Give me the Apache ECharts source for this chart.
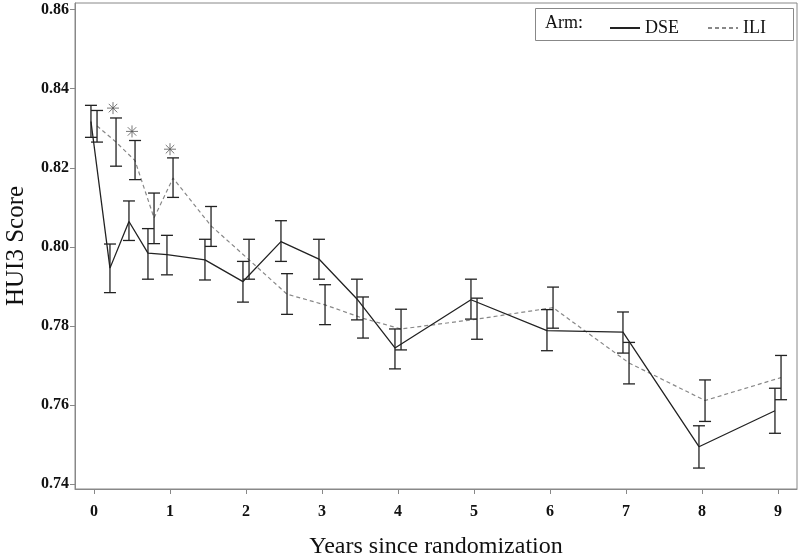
<!DOCTYPE html>
<html>
<head>
<meta charset="utf-8">
<script src="https://cdn.jsdelivr.net/npm/echarts@6/dist/echarts.min.js"></script>
<style>
html,body{margin:0;padding:0;background:#fff;}
#c{width:800px;height:558px;}
</style>
</head>
<body>
<div id="c"></div>
<script>
// Years since randomization
var years = [0, 0.25, 0.5, 0.75, 1, 1.5, 2, 2.5, 3, 3.5, 4, 5, 6, 7, 8, 9];
// DSE arm
var dseMean  = [0.8317, 0.7946, 0.8064, 0.7984, 0.7980, 0.7967, 0.7912, 0.8013, 0.7969, 0.7868, 0.7744, 0.7866, 0.7788, 0.7784, 0.7494, 0.7585];
var dseLower = [0.8277, 0.7884, 0.8016, 0.7918, 0.7929, 0.7916, 0.7860, 0.7963, 0.7918, 0.7815, 0.7691, 0.7817, 0.7737, 0.7731, 0.7440, 0.7528];
var dseUpper = [0.8358, 0.8007, 0.8116, 0.8046, 0.8029, 0.8019, 0.7963, 0.8066, 0.8019, 0.7918, 0.7792, 0.7918, 0.7841, 0.7835, 0.7547, 0.7642];
// ILI arm
var iliMean  = [0.8306, 0.8265, 0.8218, 0.8073, 0.8174, 0.8053, 0.7967, 0.7880, 0.7853, 0.7819, 0.7792, 0.7817, 0.7846, 0.7706, 0.7611, 0.7669];
var iliLower = [0.8265, 0.8204, 0.8170, 0.8008, 0.8125, 0.8001, 0.7918, 0.7829, 0.7803, 0.7769, 0.7739, 0.7766, 0.7794, 0.7653, 0.7558, 0.7613];
var iliUpper = [0.8345, 0.8326, 0.8269, 0.8136, 0.8225, 0.8102, 0.8019, 0.7932, 0.7904, 0.7873, 0.7842, 0.7870, 0.7898, 0.7758, 0.7663, 0.7725];
// significance markers (asterisks)
var starX = [0.25, 0.5, 1];
var starY = [0.8351, 0.8292, 0.8247];
// tick labels
var xTicks = [0, 1, 2, 3, 4, 5, 6, 7, 8, 9];
var yTicks = [0.74, 0.76, 0.78, 0.80, 0.82, 0.84, 0.86];

var DSE_OFF = -0.04, ILI_OFF = 0.04;
var FONT = 'Liberation Serif';

function pts(mean, off) {
  return years.map(function (y, i) { return [y + off, mean[i]]; });
}
function bars(lo, hi, off) {
  return years.map(function (y, i) { return [y + off, lo[i], hi[i]]; });
}
function errRender(params, api) {
  var x = api.value(0);
  var p1 = api.coord([x, api.value(1)]);
  var p2 = api.coord([x, api.value(2)]);
  var w = 6;
  var st = { stroke: '#222', lineWidth: 1.3 };
  return {
    type: 'group',
    children: [
      { type: 'line', shape: { x1: p1[0], y1: p1[1], x2: p2[0], y2: p2[1] }, style: st },
      { type: 'line', shape: { x1: p1[0] - w, y1: p1[1], x2: p1[0] + w, y2: p1[1] }, style: st },
      { type: 'line', shape: { x1: p2[0] - w, y1: p2[1], x2: p2[0] + w, y2: p2[1] }, style: st }
    ]
  };
}

var chart = echarts.init(document.getElementById('c'), null, { renderer: 'canvas' });
chart.setOption({
  animation: false,
  backgroundColor: '#fff',
  textStyle: { fontFamily: FONT },
  grid: { left: 75, right: 3, top: 3, bottom: 69, show: true, borderColor: '#888', borderWidth: 1,
    containLabel: false, outerBoundsMode: 'none' },
  xAxis: {
    type: 'value', min: -0.25, max: 9.25,
    name: 'Years since randomization', nameLocation: 'middle', nameGap: 46,
    nameTextStyle: { fontFamily: FONT, fontSize: 24, color: '#111' },
    axisLine: { show: true, onZero: false, lineStyle: { color: '#888' } },
    axisTick: { show: true, length: 5, lineStyle: { color: '#888' }, customValues: xTicks },
    axisLabel: { customValues: xTicks, margin: 15, fontFamily: FONT, fontSize: 16, fontWeight: 'bold', color: '#111' },
    splitLine: { show: false }
  },
  yAxis: {
    type: 'value', min: 0.7387, max: 0.8617,
    name: 'HUI3 Score', nameLocation: 'middle', nameGap: 46,
    nameTextStyle: { fontFamily: FONT, fontSize: 25, color: '#111' },
    axisLine: { show: true, onZero: false, lineStyle: { color: '#888' } },
    axisTick: { show: true, length: 5, lineStyle: { color: '#888' }, customValues: yTicks },
    axisLabel: { customValues: yTicks, margin: 6, fontFamily: FONT, fontSize: 16, fontWeight: 'bold', color: '#111',
      formatter: function (v) { return v.toFixed(2); } },
    splitLine: { show: false }
  },
  legend: {
    data: ['DSE', 'ILI'], left: 604, top: 14, itemWidth: 30, itemHeight: 12, itemGap: 28,
    itemStyle: { opacity: 0 },
    textStyle: { fontFamily: FONT, fontSize: 18, color: '#111' }
  },
  graphic: [
    { type: 'rect', left: 535, top: 8, shape: { width: 258, height: 32 }, style: { fill: '#fff', stroke: '#888', lineWidth: 1 }, z: 0 },
    { type: 'text', left: 545, top: 14, style: { text: 'Arm:', font: '18px "Liberation Serif"', fill: '#111' }, z: 10 }
  ],
  series: [
    { name: 'DSE', type: 'line', data: pts(dseMean, DSE_OFF), showSymbol: false, symbol: 'none',
      lineStyle: { color: '#222', width: 1.3, type: 'solid' }, itemStyle: { color: '#222' }, z: 3 },
    { name: 'ILI', type: 'line', data: pts(iliMean, ILI_OFF), showSymbol: false, symbol: 'none',
      lineStyle: { color: '#888', width: 1.2, type: [4, 3] }, itemStyle: { color: '#888' }, z: 2 },
    { name: 'DSE err', type: 'custom', data: bars(dseLower, dseUpper, DSE_OFF), renderItem: errRender,
      encode: { x: 0, y: [1, 2] }, z: 4 },
    { name: 'ILI err', type: 'custom', data: bars(iliLower, iliUpper, ILI_OFF), renderItem: errRender,
      encode: { x: 0, y: [1, 2] }, z: 4 },
    { name: 'sig', type: 'scatter', data: starX.map(function (x, i) { return [x, starY[i]]; }),
      symbol: 'path://M0,-10L0,10M-10,0L10,0M-7.07,-7.07L7.07,7.07M-7.07,7.07L7.07,-7.07',
      symbolSize: 12, itemStyle: { color: 'none', borderColor: '#555', borderWidth: 1 }, z: 5 }
  ]
});
</script>
</body>
</html>
